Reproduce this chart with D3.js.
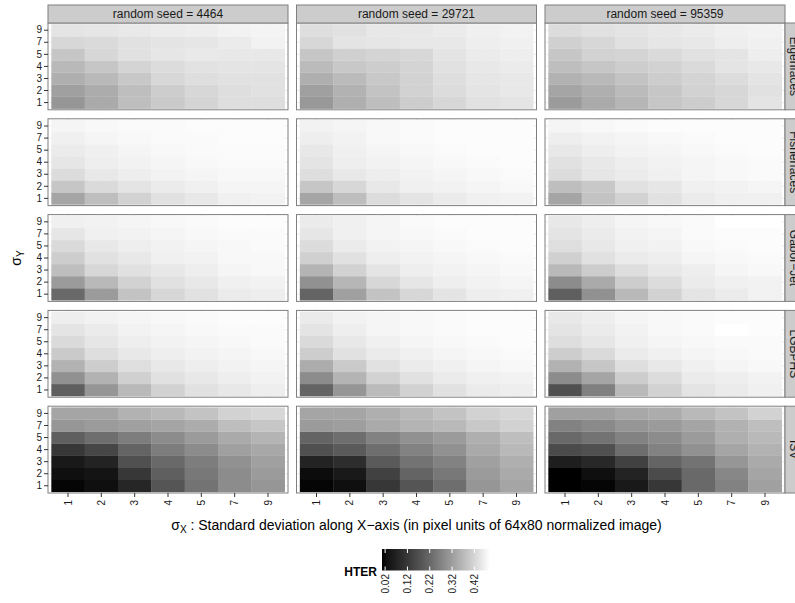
<!DOCTYPE html>
<html>
<head>
<meta charset="utf-8">
<script src="https://cdn.jsdelivr.net/npm/d3@7"></script>
<style>
  body { margin: 0; background: #fff; }
  svg text { font-family: "Liberation Sans", Arial, Helvetica, sans-serif; }
</style>
</head>
<body>
<svg id="chart" width="795" height="603"></svg>
<script>
const seeds = [4464, 29721, 95359];
const algorithms = ["Eigenfaces", "Fisherfaces", "Gabor\u2212Jet", "LGBPHS", "ISV"];
const sigmaX = [1, 2, 3, 4, 5, 7, 9];
const sigmaY = [1, 2, 3, 4, 5, 7, 9];
const legendTicks = [0.02, 0.12, 0.22, 0.32, 0.42];

// HTER, one block per seed; rows sigmaY = 1,2,3,4,5,7,9, columns sigmaX = 1,2,3,4,5,7,9
const hterEigenfaces = [
  [[0.307,0.343,0.378,0.399,0.417,0.435,0.435],
   [0.325,0.347,0.378,0.405,0.422,0.435,0.440],
   [0.352,0.369,0.396,0.422,0.435,0.440,0.440],
   [0.369,0.392,0.417,0.431,0.441,0.445,0.445],
   [0.392,0.422,0.440,0.448,0.453,0.452,0.452],
   [0.422,0.427,0.440,0.445,0.448,0.457,0.468],
   [0.445,0.448,0.453,0.458,0.462,0.468,0.471]],
  [[0.311,0.352,0.378,0.405,0.422,0.440,0.445],
   [0.325,0.357,0.387,0.413,0.431,0.445,0.452],
   [0.352,0.374,0.396,0.413,0.435,0.448,0.452],
   [0.374,0.396,0.405,0.417,0.440,0.452,0.457],
   [0.392,0.410,0.417,0.422,0.445,0.457,0.462],
   [0.422,0.445,0.448,0.452,0.452,0.462,0.465],
   [0.435,0.440,0.452,0.452,0.457,0.465,0.468]],
  [[0.316,0.343,0.364,0.392,0.405,0.422,0.445],
   [0.334,0.352,0.374,0.392,0.413,0.422,0.440],
   [0.357,0.369,0.387,0.405,0.417,0.431,0.445],
   [0.378,0.392,0.405,0.413,0.427,0.445,0.452],
   [0.392,0.413,0.417,0.427,0.440,0.445,0.462],
   [0.410,0.422,0.440,0.448,0.452,0.462,0.465],
   [0.431,0.440,0.445,0.452,0.457,0.465,0.468]]
];
const hterFisherfaces = [
  [[0.334,0.378,0.413,0.440,0.452,0.465,0.468],
   [0.392,0.427,0.445,0.457,0.465,0.473,0.473],
   [0.431,0.452,0.462,0.468,0.473,0.478,0.478],
   [0.448,0.462,0.468,0.473,0.478,0.481,0.481],
   [0.457,0.465,0.473,0.478,0.481,0.481,0.481],
   [0.465,0.473,0.478,0.481,0.481,0.485,0.485],
   [0.473,0.478,0.481,0.481,0.485,0.485,0.485]],
  [[0.334,0.378,0.431,0.445,0.457,0.465,0.468],
   [0.392,0.422,0.452,0.465,0.468,0.473,0.478],
   [0.435,0.452,0.462,0.468,0.473,0.478,0.481],
   [0.445,0.462,0.468,0.473,0.478,0.481,0.485],
   [0.452,0.465,0.473,0.478,0.481,0.485,0.485],
   [0.462,0.468,0.478,0.481,0.485,0.485,0.485],
   [0.468,0.473,0.478,0.481,0.485,0.485,0.485]],
  [[0.334,0.387,0.413,0.440,0.457,0.465,0.465],
   [0.378,0.396,0.440,0.448,0.465,0.468,0.473],
   [0.431,0.448,0.457,0.465,0.473,0.478,0.481],
   [0.440,0.452,0.462,0.468,0.473,0.478,0.481],
   [0.452,0.462,0.468,0.473,0.478,0.481,0.485],
   [0.462,0.468,0.473,0.478,0.481,0.485,0.485],
   [0.473,0.478,0.481,0.485,0.485,0.485,0.485]]
];
const hterGaborJet = [
  [[0.221,0.316,0.387,0.422,0.440,0.457,0.462],
   [0.316,0.369,0.413,0.440,0.452,0.465,0.468],
   [0.378,0.422,0.440,0.452,0.462,0.473,0.478],
   [0.405,0.440,0.452,0.465,0.468,0.478,0.478],
   [0.427,0.452,0.462,0.468,0.473,0.478,0.481],
   [0.448,0.465,0.468,0.473,0.478,0.481,0.481],
   [0.465,0.468,0.473,0.478,0.481,0.485,0.485]],
  [[0.211,0.325,0.387,0.422,0.445,0.462,0.465],
   [0.297,0.364,0.422,0.448,0.462,0.468,0.473],
   [0.360,0.413,0.445,0.462,0.468,0.473,0.478],
   [0.410,0.440,0.462,0.468,0.473,0.478,0.481],
   [0.431,0.457,0.468,0.473,0.478,0.481,0.485],
   [0.448,0.465,0.473,0.478,0.481,0.485,0.485],
   [0.457,0.465,0.473,0.481,0.485,0.485,0.485]],
  [[0.201,0.297,0.369,0.413,0.445,0.457,0.468],
   [0.288,0.343,0.405,0.431,0.457,0.465,0.468],
   [0.369,0.405,0.435,0.452,0.462,0.473,0.478],
   [0.410,0.440,0.457,0.462,0.473,0.478,0.481],
   [0.435,0.452,0.465,0.468,0.478,0.481,0.485],
   [0.445,0.457,0.468,0.473,0.481,0.485,0.485],
   [0.452,0.462,0.473,0.478,0.481,0.490,0.490]]
];
const hterLGBPHS = [
  [[0.201,0.307,0.369,0.413,0.440,0.452,0.462],
   [0.297,0.357,0.410,0.440,0.452,0.462,0.468],
   [0.357,0.405,0.435,0.452,0.462,0.468,0.473],
   [0.399,0.435,0.452,0.462,0.468,0.473,0.478],
   [0.427,0.448,0.462,0.468,0.473,0.478,0.481],
   [0.445,0.457,0.468,0.473,0.478,0.481,0.481],
   [0.462,0.468,0.473,0.478,0.481,0.485,0.485]],
  [[0.211,0.307,0.374,0.413,0.440,0.457,0.462],
   [0.288,0.360,0.413,0.440,0.457,0.465,0.468],
   [0.347,0.399,0.440,0.457,0.465,0.473,0.478],
   [0.405,0.440,0.457,0.465,0.473,0.478,0.481],
   [0.427,0.452,0.465,0.473,0.478,0.481,0.485],
   [0.445,0.462,0.473,0.478,0.481,0.485,0.485],
   [0.457,0.468,0.473,0.478,0.481,0.485,0.485]],
  [[0.171,0.266,0.369,0.413,0.445,0.457,0.465],
   [0.288,0.334,0.405,0.431,0.457,0.462,0.468],
   [0.357,0.392,0.435,0.452,0.465,0.473,0.478],
   [0.405,0.427,0.457,0.465,0.473,0.478,0.481],
   [0.435,0.448,0.465,0.473,0.478,0.481,0.481],
   [0.445,0.457,0.468,0.478,0.481,0.490,0.485],
   [0.452,0.462,0.473,0.478,0.481,0.485,0.485]]
];
const hterISV = [
  [[0.013,0.027,0.080,0.181,0.240,0.288,0.307],
   [0.027,0.036,0.118,0.201,0.250,0.288,0.316],
   [0.048,0.072,0.171,0.221,0.260,0.297,0.325],
   [0.118,0.150,0.211,0.260,0.288,0.325,0.340],
   [0.201,0.231,0.260,0.288,0.316,0.343,0.360],
   [0.307,0.316,0.325,0.334,0.347,0.378,0.392],
   [0.334,0.334,0.357,0.369,0.387,0.413,0.422]],
  [[0.013,0.027,0.118,0.181,0.231,0.307,0.334],
   [0.022,0.048,0.139,0.211,0.250,0.316,0.343],
   [0.072,0.095,0.191,0.240,0.269,0.325,0.352],
   [0.171,0.191,0.231,0.269,0.297,0.343,0.369],
   [0.211,0.231,0.269,0.297,0.316,0.352,0.378],
   [0.316,0.322,0.343,0.360,0.369,0.396,0.413],
   [0.334,0.334,0.352,0.369,0.387,0.413,0.422]],
  [[0.006,0.013,0.048,0.118,0.221,0.269,0.325],
   [0.006,0.027,0.072,0.160,0.221,0.279,0.334],
   [0.060,0.084,0.139,0.211,0.240,0.307,0.343],
   [0.160,0.171,0.231,0.269,0.297,0.334,0.357],
   [0.221,0.240,0.269,0.288,0.316,0.352,0.369],
   [0.269,0.284,0.307,0.316,0.334,0.357,0.378],
   [0.325,0.325,0.340,0.347,0.369,0.387,0.413]]
];
const hterByAlgorithm = [hterEigenfaces, hterFisherfaces, hterGaborJet, hterLGBPHS, hterISV];

// layout
var plotLeft = 48, plotRight = 785, plotTop = 23, plotBottom = 493;
var colGap = 8.5, rowGap = 9, stripH = 18;
var pw = (plotRight - plotLeft - colGap * 2) / 3;
var ph = (plotBottom - plotTop - rowGap * 4) / 5;

var svg = d3.select("#chart");

var cells = [];
algorithms.forEach(function(alg, r) {
  seeds.forEach(function(seed, c) {
    hterByAlgorithm[r][c].forEach(function(row, yi) {
      row.forEach(function(v, xi) {
        cells.push({ r: r, c: c, sx: sigmaX[xi], sy: sigmaY[yi], v: v });
      });
    });
  });
});

var color = d3.scaleLinear()
  .domain(d3.extent(cells, function(d) { return d.v; }))
  .range(["#000000", "#ffffff"])
  .interpolate(d3.interpolateLab);

var x = d3.scaleBand().domain(sigmaX).range([0, pw]).paddingInner(0).paddingOuter(0.1);
var y = d3.scaleBand().domain(sigmaY.slice().reverse()).range([0, ph]).paddingInner(0).paddingOuter(0.1);

function panelX(c) { return plotLeft + c * (pw + colGap); }
function panelY(r) { return plotTop + r * (ph + rowGap); }

algorithms.forEach(function(alg, r) {
  seeds.forEach(function(seed, c) {
    var g = svg.append("g")
      .attr("transform", "translate(" + panelX(c) + "," + panelY(r) + ")");

    g.append("rect").attr("width", pw).attr("height", ph).attr("fill", "#fff");

    // grid lines (only visible in the padding)
    g.selectAll(".gx").data(sigmaX).enter().append("line")
      .attr("x1", function(d) { return x(d) + x.bandwidth() / 2; })
      .attr("x2", function(d) { return x(d) + x.bandwidth() / 2; })
      .attr("y1", 0).attr("y2", ph)
      .attr("stroke", "#e0e0e0").attr("stroke-width", 0.6);
    g.selectAll(".gy").data(sigmaY).enter().append("line")
      .attr("y1", function(d) { return y(d) + y.bandwidth() / 2; })
      .attr("y2", function(d) { return y(d) + y.bandwidth() / 2; })
      .attr("x1", 0).attr("x2", pw)
      .attr("stroke", "#e0e0e0").attr("stroke-width", 0.6);

    g.selectAll(".tile")
      .data(cells.filter(function(d) { return d.r === r && d.c === c; }))
      .enter().append("rect")
      .attr("x", function(d) { return x(d.sx); })
      .attr("y", function(d) { return y(d.sy); })
      .attr("width", x.bandwidth() + 0.3)
      .attr("height", y.bandwidth() + 0.3)
      .attr("fill", function(d) { return color(d.v); });

    g.append("rect").attr("width", pw).attr("height", ph)
      .attr("fill", "none").attr("stroke", "#7f7f7f").attr("stroke-width", 1);

    // y axis on the first column
    if (c === 0) {
      var ya = g.append("g").call(d3.axisLeft(y).tickSize(4).tickPadding(2));
      ya.select(".domain").remove();
      ya.selectAll(".tick line").attr("stroke", "#333");
      ya.selectAll(".tick text").attr("font-size", 10).attr("fill", "#1a1a1a")
        .style("font-family", "'Liberation Sans', Arial, sans-serif");
    }
    // x axis on the last row
    if (r === algorithms.length - 1) {
      var xa = g.append("g").attr("transform", "translate(0," + ph + ")")
        .call(d3.axisBottom(x).tickSize(4).tickPadding(2));
      xa.select(".domain").remove();
      xa.selectAll(".tick line").attr("stroke", "#333");
      xa.selectAll(".tick text").attr("font-size", 10).attr("fill", "#1a1a1a")
        .style("font-family", "'Liberation Sans', Arial, sans-serif")
        .attr("transform", "rotate(-90)")
        .attr("text-anchor", "end")
        .attr("x", -7).attr("y", 0).attr("dy", "0.35em");
    }
  });
});

// top strips
seeds.forEach(function(seed, c) {
  svg.append("rect")
    .attr("x", panelX(c)).attr("y", plotTop - stripH)
    .attr("width", pw).attr("height", stripH)
    .attr("fill", "#cccccc").attr("stroke", "#7f7f7f").attr("stroke-width", 1);
  svg.append("text")
    .attr("x", panelX(c) + pw / 2).attr("y", plotTop - stripH / 2)
    .attr("dy", "0.35em").attr("text-anchor", "middle")
    .attr("font-size", 12).attr("fill", "#1a1a1a")
    .text("random seed = " + seed);
});

// right strips (cut by the page edge, as in the original)
algorithms.forEach(function(alg, r) {
  svg.append("rect")
    .attr("x", plotRight).attr("y", panelY(r))
    .attr("width", stripH).attr("height", ph)
    .attr("fill", "#cccccc").attr("stroke", "#7f7f7f").attr("stroke-width", 1);
  svg.append("text")
    .attr("transform", "translate(" + (plotRight + stripH / 2) + "," + (panelY(r) + ph / 2) + ") rotate(90)")
    .attr("dy", "0.35em").attr("text-anchor", "middle")
    .attr("font-size", 12).attr("fill", "#1a1a1a")
    .text(alg);
});

// axis titles
var yt = svg.append("text")
  .attr("transform", "translate(21," + ((plotTop + plotBottom) / 2) + ") rotate(-90)")
  .attr("text-anchor", "middle").attr("font-size", 14);
yt.append("tspan").text("\u03c3");
yt.append("tspan").attr("font-size", 10).attr("dy", 3).text("Y");

var xt = svg.append("text")
  .attr("x", 0).attr("y", 530)
  .attr("text-anchor", "start").attr("font-size", 14);
xt.append("tspan").text("\u03c3");
xt.append("tspan").attr("font-size", 10).attr("dy", 3).text("X");
xt.append("tspan").attr("dy", -3).text("  : Standard deviation along X\u2212axis (in pixel units of 64x80 normalized image)");
var xtBox = xt.node().getBBox();
xt.attr("x", (plotLeft + plotRight) / 2 - xtBox.width / 2);

// legend
var lx = d3.scaleLinear().domain(color.domain()).range([382, 490]);
var defs = svg.append("defs");
var grad = defs.append("linearGradient").attr("id", "hterGrad");
d3.range(0, 1.0001, 0.05).forEach(function(t) {
  var v = color.domain()[0] + t * (color.domain()[1] - color.domain()[0]);
  grad.append("stop").attr("offset", t).attr("stop-color", color(v));
});
svg.append("rect")
  .attr("x", lx.range()[0]).attr("y", 549)
  .attr("width", lx.range()[1] - lx.range()[0]).attr("height", 21.5)
  .attr("fill", "url(#hterGrad)");
svg.selectAll(".ltick-top").data(legendTicks).enter().append("line")
  .attr("x1", function(d) { return lx(d); }).attr("x2", function(d) { return lx(d); })
  .attr("y1", 549).attr("y2", 553).attr("stroke", "#fff").attr("stroke-width", 1);
svg.selectAll(".ltick-bot").data(legendTicks).enter().append("line")
  .attr("x1", function(d) { return lx(d); }).attr("x2", function(d) { return lx(d); })
  .attr("y1", 566.5).attr("y2", 570.5).attr("stroke", "#fff").attr("stroke-width", 1);
svg.selectAll(".llab").data(legendTicks).enter().append("text")
  .attr("transform", function(d) { return "translate(" + lx(d) + ",574) rotate(-90)"; })
  .attr("text-anchor", "end").attr("dy", "0.35em")
  .attr("font-size", 10).attr("fill", "#1a1a1a")
  .text(function(d) { return d3.format(".2f")(d); });
svg.append("text")
  .attr("x", 377).attr("y", 576)
  .attr("text-anchor", "end").attr("font-size", 12).attr("font-weight", "bold")
  .text("HTER");
</script>
</body>
</html>
